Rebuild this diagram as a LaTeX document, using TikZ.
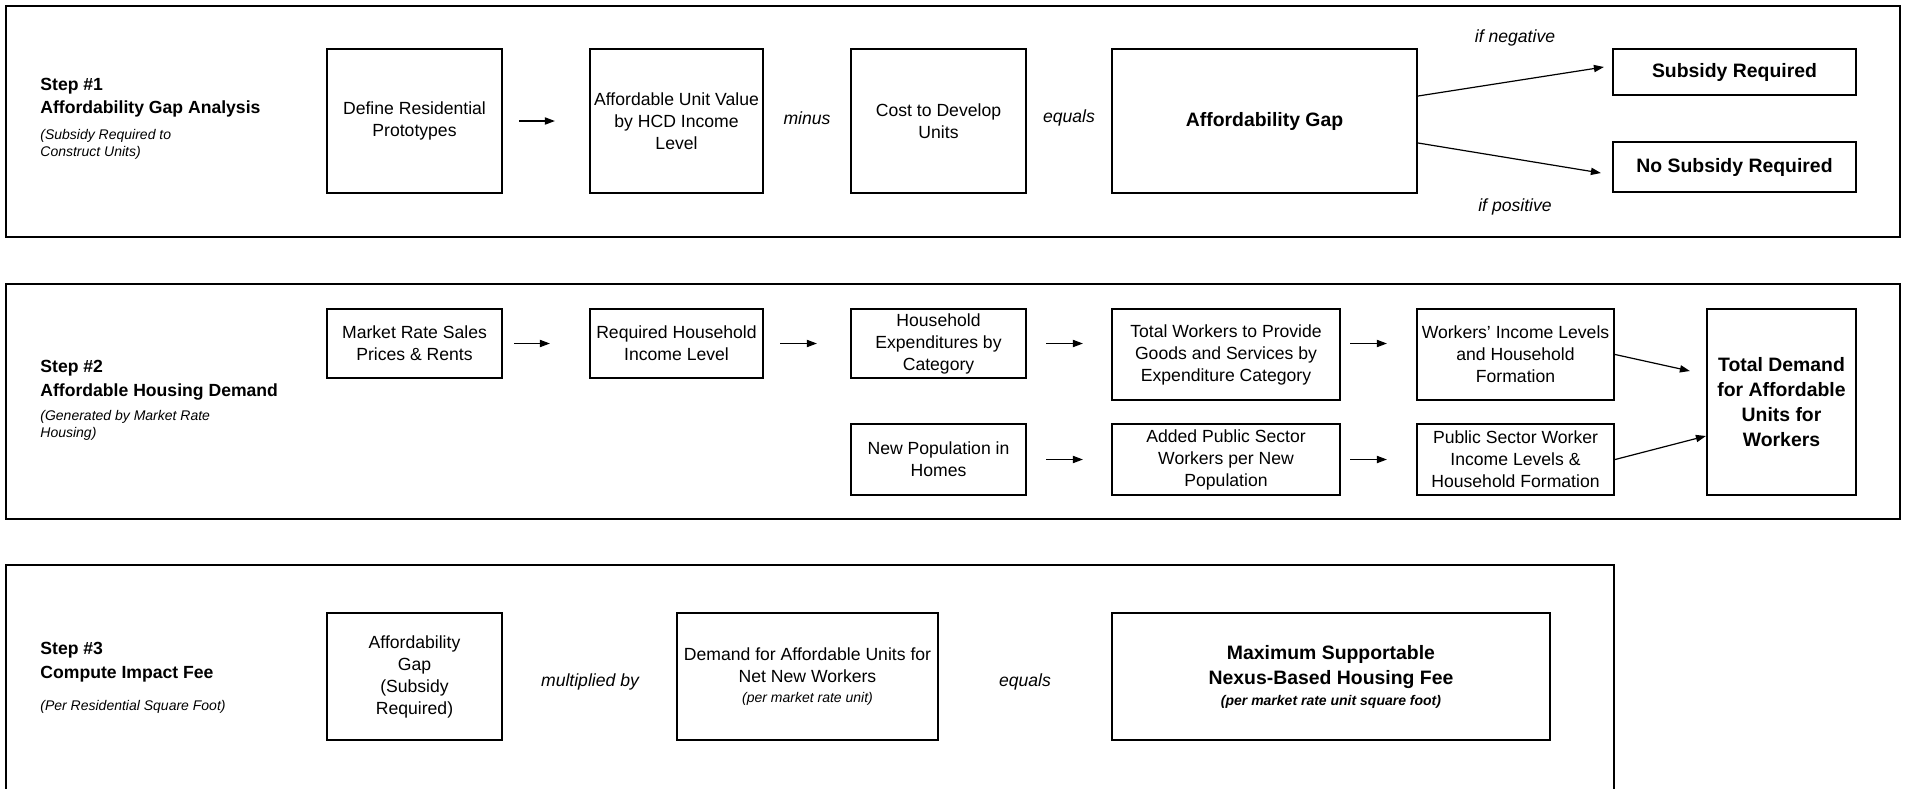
\documentclass[tikz,border=0pt]{standalone}
\usepackage{fontspec}
\setmainfont{Liberation Sans}
\usetikzlibrary{arrows.meta,calc}
\begin{document}
\begin{tikzpicture}[x=0.5pt,y=-0.5pt,
  panel/.style={draw,line width=1.1pt},
  rect/.style n args={4}{minimum width={(#3-#1)*0.5pt},minimum height={(#4-#2)*0.5pt},at={({(#1+#3)/2},{(#2+#4)/2})}},
  box/.style={draw,line width=1.1pt,inner sep=0pt,align=center,font=\fontsize{8.8}{11}\selectfont},
  bbox/.style={box,font=\bfseries\fontsize{9.7}{12.5}\selectfont},
  lbl/.style={inner sep=0pt,font=\itshape\fontsize{8.8}{11}\selectfont},
  stitle/.style={inner sep=0pt,anchor=base west,font=\bfseries\fontsize{8.8}{11}\selectfont},
  ssub/.style={inner sep=0pt,anchor=base west,font=\itshape\fontsize{7}{8.5}\selectfont},
  arr/.style={-{Triangle[length=5pt,width=3.6pt]},line width=0.6pt}]
\useasboundingbox (0,0) rectangle (1906,788);
% panels
\draw[panel] (6,6) rectangle (1900,237);
\draw[panel] (6,284) rectangle (1900,519);
\draw[panel] (6,800) -- (6,565) -- (1614,565) -- (1614,800);
% step 1
\node[stitle] (s1a) at (40,90.5) {Step \#1};
\node[stitle] (s1b) at (40,113.5) {Affordability Gap Analysis};
\node[ssub] (s1c) at (40,139) {(Subsidy Required to};
\node[ssub] (s1d) at (40,156) {Construct Units)};
\node[box,rect={327}{49}{502}{193}] (A1) {Define Residential\\Prototypes};
\node[box,rect={590}{49}{763}{193}] (A2) {Affordable Unit Value\\by HCD Income\\Level};
\node[box,rect={851}{49}{1026}{193}] (A3) {Cost to Develop\\Units};
\node[bbox,rect={1112}{49}{1417}{193}] (A4) {Affordability Gap};
\node[bbox,rect={1613}{49}{1856}{95}] (SR) {Subsidy Required};
\node[bbox,rect={1613}{142}{1856}{192}] (NSR) {No Subsidy Required};
\node[lbl] (minus) at (807,118) {minus};
\node[lbl] (eq1) at (1069,118) {equals};
\node[lbl] (neg) at (1515,38) {if negative};
\node[lbl] (pos) at (1515,207) {if positive};
\draw[arr,shorten <=8pt,shorten >=17pt] (A1.east) -- (A2.west);
\draw[arr] ([shift={(0,-25)}]A4.east) -- ([shift={(-8,-5)}]SR.west);
\draw[arr] ([shift={(0,22)}]A4.east) -- ([shift={(-11,6)}]NSR.west);
% step 2
\node[stitle] (s2a) at (40,372.5) {Step \#2};
\node[stitle] (s2b) at (40,396.5) {Affordable Housing Demand};
\node[ssub] (s2c) at (40,420) {(Generated by Market Rate};
\node[ssub] (s2d) at (40,437) {Housing)};
\node[box,rect={327}{309}{502}{378}] (B1) {Market Rate Sales\\Prices \& Rents};
\node[box,rect={590}{309}{763}{378}] (B2) {Required Household\\Income Level};
\node[box,rect={851}{309}{1026}{378}] (B3) {Household\\Expenditures by\\Category};
\node[box,rect={1112}{309}{1340}{400}] (B4) {Total Workers to Provide\\Goods and Services by\\Expenditure Category};
\node[box,rect={1417}{309}{1614}{400}] (B5) {Workers' Income Levels\\and Household\\Formation};
\node[bbox,rect={1707}{309}{1856}{495}] (B6) {Total Demand\\for Affordable\\Units for\\Workers};
\node[box,rect={851}{424}{1026}{495}] (C1) {New Population in\\Homes};
\node[box,rect={1112}{424}{1340}{495}] (C2) {Added Public Sector\\Workers per New\\Population};
\node[box,rect={1417}{424}{1614}{495}] (C3) {Public Sector Worker\\Income Levels \&\\Household Formation};
\draw[arr,shorten <=5.5pt,shorten >=19.5pt] (B1.east) -- (B2.west);
\draw[arr,shorten <=8pt,shorten >=16.5pt] (B2.east) -- (B3.west);
\draw[arr,shorten <=9.5pt,shorten >=14pt] (B3.east) -- (B3.east -| B4.west);
\draw[arr,shorten <=4.5pt,shorten >=14.5pt] (B4.east |- B3.east) -- (B3.east -| B5.west);
\draw[arr,shorten <=9.5pt,shorten >=14pt] (C1.east) -- (C2.west);
\draw[arr,shorten <=4.5pt,shorten >=14.5pt] (C2.east) -- (C3.west);
\draw[arr] (B5.east) -- ([shift={(-16,-31)}]B6.west);
\draw[arr] (C3.east) -- ([shift={(0,34)}]B6.west);
% step 3
\node[stitle] (s3a) at (40,654.5) {Step \#3};
\node[stitle] (s3b) at (40,678.5) {Compute Impact Fee};
\node[ssub] (s3c) at (40,710) {(Per Residential Square Foot)};
\node[box,rect={327}{613}{502}{740}] (D1) {Affordability\\Gap\\(Subsidy\\Required)};
\node[box,rect={677}{613}{938}{740}] (D2) {Demand for Affordable Units for\\Net New Workers\\[-0.7pt]{\itshape\fontsize{7}{8.5}\selectfont(per market rate unit)}};
\node[bbox,rect={1112}{613}{1550}{740}] (D3) {Maximum Supportable\\Nexus-Based Housing Fee\\[-2pt]{\itshape\fontsize{7}{8.5}\selectfont(per market rate unit square foot)}};
\node[lbl] (mult) at (590,682) {multiplied by};
\node[lbl] (eq2) at (1025,682) {equals};
\end{tikzpicture}
\end{document}
